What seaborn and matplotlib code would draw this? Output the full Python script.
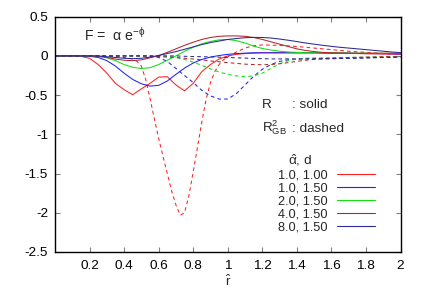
import numpy as np
import pandas as pd
import seaborn as sns
import matplotlib
matplotlib.use("Agg")
import matplotlib.pyplot as plt
from matplotlib.lines import Line2D

# ---------------- data ----------------
x_grid = [round(0.05 * i, 2) for i in range(41)]

labels = ["1.0, 1.00", "1.0, 1.50", "2.0, 1.50", "4.0, 1.50", "8.0, 1.50"]
colors = ["#ff2020", "#2020ff", "#10e010", "#b02828", "#2a2a9a"]

# R (solid)
r_a1_d100 = [0, 0, 0, -0.005, -0.03, -0.11, -0.22, -0.35, -0.43, -0.495, -0.42,
             -0.35, -0.27, -0.265, -0.37, -0.445, -0.35, -0.2, -0.11, -0.04, 0.0,
             0.02, 0.03, 0.035, 0.04, 0.04, 0.04, 0.04, 0.04, 0.04, 0.04,
             0.037, 0.035, 0.033, 0.032, 0.03, 0.028, 0.026, 0.024, 0.022, 0.02]
r_a1_d150 = [0, 0, 0, 0, -0.005, -0.02, -0.06, -0.13, -0.22, -0.3, -0.355,
             -0.385, -0.375, -0.32, -0.235, -0.155, -0.09, -0.045, -0.015, 0.005, 0.02,
             0.03, 0.035, 0.04, 0.04, 0.04, 0.04, 0.04, 0.04, 0.04, 0.04,
             0.037, 0.035, 0.035, 0.035, 0.032, 0.03, 0.03, 0.03, 0.028, 0.025]
r_a2_d150 = [0, 0, 0, 0, 0, -0.005, -0.025, -0.06, -0.11, -0.145, -0.16,
             -0.15, -0.11, -0.055, 0.0, 0.06, 0.11, 0.155, 0.185, 0.205, 0.21,
             0.195, 0.165, 0.125, 0.095, 0.075, 0.06, 0.05, 0.045, 0.04, 0.04,
             0.04, 0.04, 0.037, 0.035, 0.035, 0.035, 0.033, 0.032, 0.031, 0.03]
r_a4_d150 = [0, 0, 0, 0, 0, -0.005, -0.02, -0.04, -0.055, -0.06, -0.05,
             -0.025, 0.005, 0.045, 0.09, 0.135, 0.175, 0.21, 0.235, 0.25, 0.255,
             0.255, 0.25, 0.235, 0.21, 0.18, 0.15, 0.12, 0.09, 0.07, 0.055,
             0.045, 0.04, 0.037, 0.035, 0.035, 0.035, 0.035, 0.035, 0.035, 0.035]
r_a8_d150 = [0, 0, 0, 0, 0, 0, -0.01, -0.02, -0.03, -0.035, -0.03,
             -0.015, 0.005, 0.03, 0.055, 0.085, 0.115, 0.145, 0.17, 0.19, 0.21,
             0.222, 0.232, 0.236, 0.235, 0.228, 0.215, 0.2, 0.183, 0.165, 0.15,
             0.135, 0.122, 0.11, 0.1, 0.09, 0.08, 0.07, 0.06, 0.05, 0.042]

# R^2_GB (dashed)
x_gb_a1_d100 = [0, 0.1, 0.2, 0.3, 0.35, 0.4, 0.45, 0.475, 0.5, 0.525, 0.55,
                0.575, 0.6, 0.625, 0.65, 0.675, 0.7, 0.725, 0.75, 0.775, 0.8,
                0.825, 0.85, 0.875, 0.9, 0.925, 0.95, 0.975, 1.0, 1.05, 1.1,
                1.15, 1.2, 1.3, 1.4, 1.5, 1.6, 1.7, 1.8, 1.9, 2.0]
gb_a1_d100 = [0, 0, 0, -0.005, -0.01, -0.02, -0.04, -0.07, -0.13, -0.3, -0.54,
              -0.8, -1.05, -1.28, -1.5, -1.72, -1.9, -2.03, -2.0, -1.78, -1.48,
              -1.16, -0.84, -0.55, -0.34, -0.2, -0.11, -0.05, -0.01, 0.05, 0.1,
              0.13, 0.14, 0.135, 0.12, 0.1, 0.08, 0.06, 0.045, 0.03, 0.02]
gb_a1_d150 = [0, 0, 0, 0, 0, 0, 0, 0, 0, 0, 0,
              0, -0.02, -0.07, -0.16, -0.25, -0.34, -0.44, -0.51, -0.55, -0.55,
              -0.48, -0.37, -0.26, -0.17, -0.11, -0.07, -0.05, -0.04, -0.035, -0.035,
              -0.035, -0.035, -0.032, -0.03, -0.028, -0.025, -0.022, -0.02, -0.018, -0.015]
gb_a2_d150 = [0, 0, 0, 0, 0, 0, 0, 0, 0, 0, 0,
              0, 0, -0.005, -0.02, -0.045, -0.08, -0.12, -0.165, -0.205, -0.235,
              -0.255, -0.265, -0.255, -0.22, -0.16, -0.1, -0.06, -0.04, -0.03, -0.025,
              -0.025, -0.022, -0.02, -0.02, -0.018, -0.016, -0.014, -0.012, -0.011, -0.01]
gb_a4_d150 = [0, 0, 0, 0, 0, 0, 0, 0, 0, 0, 0,
              -0.005, -0.01, -0.015, -0.02, -0.03, -0.04, -0.05, -0.065, -0.075, -0.085,
              -0.095, -0.105, -0.11, -0.112, -0.11, -0.1, -0.085, -0.07, -0.055, -0.045,
              -0.035, -0.03, -0.025, -0.02, -0.018, -0.015, -0.013, -0.01, -0.01, -0.01]
gb_a8_d150 = [0, 0, 0, 0, 0, 0, 0, 0, 0, 0, 0,
              0, 0, 0, 0, -0.005, -0.008, -0.01, -0.013, -0.016, -0.02,
              -0.024, -0.028, -0.032, -0.035, -0.038, -0.038, -0.038, -0.038, -0.038, -0.038,
              -0.038, -0.035, -0.033, -0.03, -0.028, -0.025, -0.022, -0.02, -0.018, -0.015]

x_ticks = [0.2, 0.4, 0.6, 0.8, 1.0, 1.2, 1.4, 1.6, 1.8, 2.0]
x_tick_labels = ["0.2", "0.4", "0.6", "0.8", "1", "1.2", "1.4", "1.6", "1.8", "2"]
y_ticks = [0.5, 0, -0.5, -1, -1.5, -2, -2.5]
y_tick_labels = ["0.5", "0", "-0.5", "-1", "-1.5", "-2", "-2.5"]

# ---------------- build long table ----------------
solid = [r_a1_d100, r_a1_d150, r_a2_d150, r_a4_d150, r_a8_d150]
dashed = [gb_a1_d100, gb_a1_d150, gb_a2_d150, gb_a4_d150, gb_a8_d150]
dashed_x = [x_gb_a1_d100, x_grid, x_grid, x_grid, x_grid]
rows = []
for lab, ys in zip(labels, solid):
    for xv, yv in zip(x_grid, ys):
        rows.append((lab, "R", xv, yv))
for lab, xs, ys in zip(labels, dashed_x, dashed):
    for xv, yv in zip(xs, ys):
        rows.append((lab, "GB", xv, yv))
df = pd.DataFrame(rows, columns=["params", "kind", "r", "F"])

# ---------------- style ----------------
sns.set_style("ticks")
plt.rcParams["font.family"] = ["Liberation Sans", "DejaVu Sans"]
plt.rcParams["mathtext.fontset"] = "custom"
plt.rcParams["mathtext.rm"] = "Liberation Sans"
plt.rcParams["mathtext.it"] = "Liberation Sans"
plt.rcParams["mathtext.bf"] = "Liberation Sans:bold"
plt.rcParams["axes.unicode_minus"] = False

fs = 9.7
fig = plt.figure(figsize=(4.26, 2.98), dpi=100)
ax = fig.add_axes([55 / 426, 1 - 252 / 298, 345.5 / 426, 235.3 / 298])

sns.lineplot(data=df, x="r", y="F", hue="params", style="kind",
             palette=dict(zip(labels, colors)),
             dashes={"R": "", "GB": (3.5, 3)},
             hue_order=labels, style_order=["R", "GB"],
             estimator=None, sort=True, legend=False, linewidth=0.75, ax=ax)

ax.set_xlim(0, 2)
ax.set_ylim(-2.5, 0.5)
ax.set_xticks(x_ticks)
ax.set_xticklabels(x_tick_labels)
ax.set_yticks(y_ticks)
ax.set_yticklabels(y_tick_labels)
ax.tick_params(direction="in", length=3.5, width=0.8, color="#808080",
               top=True, right=True, labelsize=fs, pad=5, labelcolor="black")
ax.tick_params(axis="x", pad=6)
for s in ax.spines.values():
    s.set_linewidth(1.0)
    s.set_color("black")
ax.set_xlabel(r"$\hat{\mathrm{r}}$", fontsize=fs, labelpad=1)
ax.set_ylabel("")

ax.text(0.17, 0.27, r"F =  $\alpha$ e$^{-\phi}$", fontsize=fs + 0.5, va="center", ha="left")
ax.text(1.197, -0.66, "R", fontsize=fs, va="baseline", ha="left")
ax.text(1.37, -0.66, ": solid", fontsize=fs, va="baseline", ha="left")
ax.text(1.197, -0.967, r"R$^{2}_{\mathrm{GB}}$", fontsize=fs, va="baseline", ha="left")
ax.text(1.37, -0.967, ": dashed", fontsize=fs, va="baseline", ha="left")
ax.text(1.416, -1.387, r"$\hat{\alpha}$, d", fontsize=fs, va="baseline", ha="center")

handles = [Line2D([], [], color=c, lw=0.8) for c in colors]
leg = ax.legend(handles, labels, loc="upper right", bbox_to_anchor=(0.926, 0.35),
                frameon=False, markerfirst=False, fontsize=9.2, handlelength=3.0,
                handletextpad=0.7, labelspacing=0.08, borderpad=0, borderaxespad=0)

fig.savefig("out.png", dpi=100)
